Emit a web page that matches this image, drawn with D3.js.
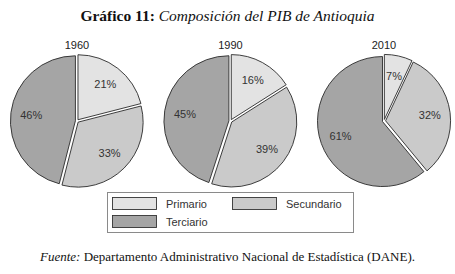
<!DOCTYPE html>
<html><head><meta charset="utf-8">
<script src="https://cdn.jsdelivr.net/npm/d3@7"></script>
<style>html,body{margin:0;padding:0;background:#fff;}svg{display:block;}</style>
</head><body>
<svg id="c" width="455" height="274"></svg>
<script>
const categories = ["Primario", "Secundario", "Terciario"];
const years = ["1960", "1990", "2010"];
const values1960 = [21, 33, 46];
const values1990 = [16, 39, 45];
const values2010 = [7, 32, 61];
const seriesValues = [values1960, values1990, values2010];
const colors = ["#e3e3e3", "#cacaca", "#a5a5a5"];

const svg = d3.select("#c");

// Title
const title = svg.append("text").attr("x", 227.5).attr("y", 21).attr("text-anchor", "middle")
  .attr("font-family", "'Liberation Serif', 'DejaVu Serif', serif").attr("font-size", 15.5).attr("fill", "#111");
title.append("tspan").attr("font-weight", "bold").text("Gráfico 11");
title.append("tspan").attr("font-weight", "bold").text(": ");
title.append("tspan").attr("font-style", "italic").text("Composición del PIB de Antioquia");

const r = 65;
const centerX = d3.scalePoint().domain(years).range([77, 384]);
const cy = 121;
const pie = d3.pie().sort(null).value(d => d);
const arc = d3.arc().innerRadius(0).outerRadius(r);
const labelArc = d3.arc().innerRadius(r * 0.71).outerRadius(r * 0.71);
const explode = 1.6;

years.forEach((yr, i) => {
  const g = svg.append("g").attr("transform", `translate(${centerX(yr)},${cy})`);
  const arcs = pie(seriesValues[i]);
  g.selectAll("path").data(arcs).enter().append("path")
    .attr("d", arc)
    .attr("transform", d => {
      const a = (d.startAngle + d.endAngle) / 2;
      return `translate(${Math.sin(a) * explode},${-Math.cos(a) * explode})`;
    })
    .attr("fill", (d, j) => colors[j])
    .attr("stroke", "#2a2a2a").attr("stroke-width", 0.9).attr("stroke-linejoin", "round");
  g.selectAll("text.lbl").data(arcs).enter().append("text").attr("class", "lbl")
    .attr("transform", d => `translate(${labelArc.centroid(d)})`)
    .attr("text-anchor", "middle").attr("dy", "0.35em")
    .attr("font-family", "'Liberation Sans', Arial, sans-serif").attr("font-size", 11).attr("fill", "#333")
    .text(d => d.data + "%");
  svg.append("text").attr("x", centerX(yr)).attr("y", 49).attr("text-anchor", "middle")
    .attr("font-family", "'Liberation Sans', Arial, sans-serif").attr("font-size", 11).attr("fill", "#222")
    .text(yr);
});

// Legend
const lg = svg.append("g");
lg.append("rect").attr("x", 107.5).attr("y", 192.5).attr("width", 246).attr("height", 40)
  .attr("fill", "#fff").attr("stroke", "#8a8a8a").attr("stroke-width", 1);
const legendPos = [[112, 197], [232, 197], [112, 215]];
categories.forEach((c, j) => {
  const [lx, ly] = legendPos[j];
  lg.append("rect").attr("x", lx + 0.5).attr("y", ly + 0.5).attr("width", 44).attr("height", 12)
    .attr("fill", colors[j]).attr("stroke", "#333").attr("stroke-width", 0.9);
  lg.append("text").attr("x", lx + 54).attr("y", ly + 10.5)
    .attr("font-family", "'Liberation Sans', Arial, sans-serif").attr("font-size", 11).attr("fill", "#333")
    .text(c);
});

// Source
const src = svg.append("text").attr("x", 227.5).attr("y", 261).attr("text-anchor", "middle")
  .attr("font-family", "'Liberation Serif', 'DejaVu Serif', serif").attr("font-size", 13).attr("fill", "#111");
src.append("tspan").attr("font-style", "italic").text("Fuente:");
src.append("tspan").text(" Departamento Administrativo Nacional de Estadística (DANE).");
</script>
</body></html>
